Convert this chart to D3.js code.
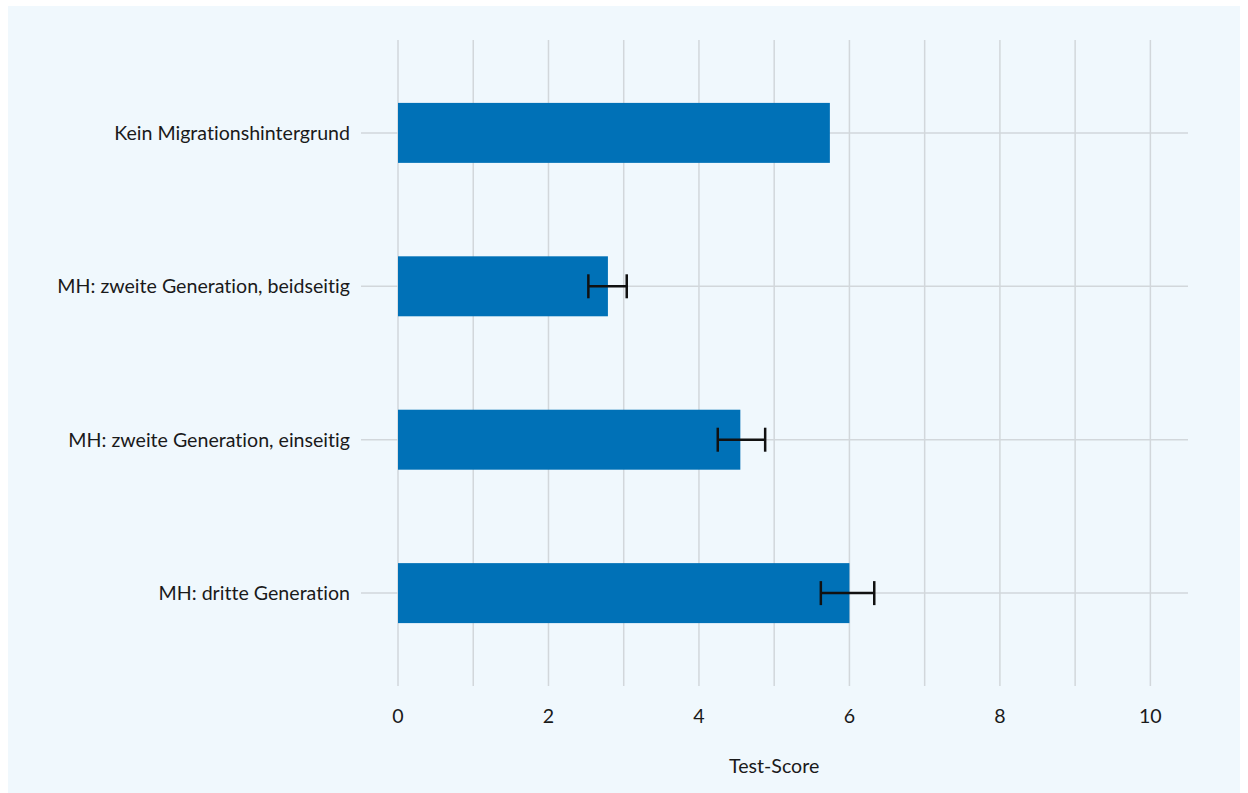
<!DOCTYPE html>
<html><head><meta charset="utf-8">
<script src="https://cdn.jsdelivr.net/npm/d3@7"></script>
<style>html,body{margin:0;padding:0;background:#fff}svg{display:block}text{font-variant-ligatures:none}</style>
</head><body>
<script>
const categories = ["Kein Migrationshintergrund","MH: zweite Generation, beidseitig","MH: zweite Generation, einseitig","MH: dritte Generation"];
const values = [5.74, 2.79, 4.55, 6.0];
const errLow = [null, 2.53, 4.25, 5.62];
const errHigh = [null, 3.04, 4.88, 6.33];
const xTicks = [0,2,4,6,8,10];
const gridTicks = [0,1,2,3,4,5,6,7,8,9,10];
const xTitle = "Test-Score";

const W = 1248, H = 793;
const svg = d3.select("body").append("svg").attr("width", W).attr("height", H);
const font = "Lato, 'Open Sans', sans-serif";
svg.append("rect").attr("x",8).attr("y",6).attr("width",1232).attr("height",787).attr("fill","#f0f8fd");

const x = d3.scaleLinear().domain([0,10.5]).range([398,1188]);
const y = d3.scaleBand().domain(categories).range([40,686]).paddingInner(0.609).paddingOuter(0.41);
const grid = "#d2d7db";

svg.append("g").selectAll("line").data(gridTicks).join("line")
  .attr("x1",d=>x(d)).attr("x2",d=>x(d)).attr("y1",40).attr("y2",686)
  .attr("stroke",grid).attr("stroke-width",1.5);
svg.append("g").selectAll("line").data(categories).join("line")
  .attr("x1",x(0)-37).attr("x2",x.range()[1])
  .attr("y1",d=>y(d)+y.bandwidth()/2).attr("y2",d=>y(d)+y.bandwidth()/2)
  .attr("stroke",grid).attr("stroke-width",1.5);

svg.append("g").selectAll("rect").data(categories).join("rect")
  .attr("x",x(0)).attr("y",d=>y(d)).attr("height",y.bandwidth())
  .attr("width",(d,i)=>x(values[i])-x(0)).attr("fill","#0071b7");

const eb = svg.append("g").attr("stroke","#111").attr("stroke-width",2.5);
categories.forEach((c,i)=>{
  if (errLow[i]==null) return;
  const cy = y(c)+y.bandwidth()/2;
  eb.append("line").attr("x1",x(errLow[i])).attr("x2",x(errHigh[i])).attr("y1",cy).attr("y2",cy);
  [errLow[i],errHigh[i]].forEach(v=>eb.append("line").attr("x1",x(v)).attr("x2",x(v)).attr("y1",cy-12).attr("y2",cy+12));
});

svg.append("g").selectAll("text").data(categories).join("text")
  .attr("x",350).attr("y",d=>y(d)+y.bandwidth()/2).attr("dy","0.35em")
  .attr("text-anchor","end").attr("font-family",font).attr("font-size",19.6).attr("fill","#1a1a1a").text(d=>d);

svg.append("g").selectAll("text").data(xTicks).join("text")
  .attr("x",d=>x(d)).attr("y",723).attr("text-anchor","middle")
  .attr("font-family",font).attr("font-size",19.6).attr("fill","#1a1a1a").text(d=>d);

svg.append("text").attr("x",(x(0)+x(10))/2).attr("y",773).attr("text-anchor","middle")
  .attr("font-family",font).attr("font-size",19.6).attr("fill","#1a1a1a").text(xTitle);
</script>
</body></html>
